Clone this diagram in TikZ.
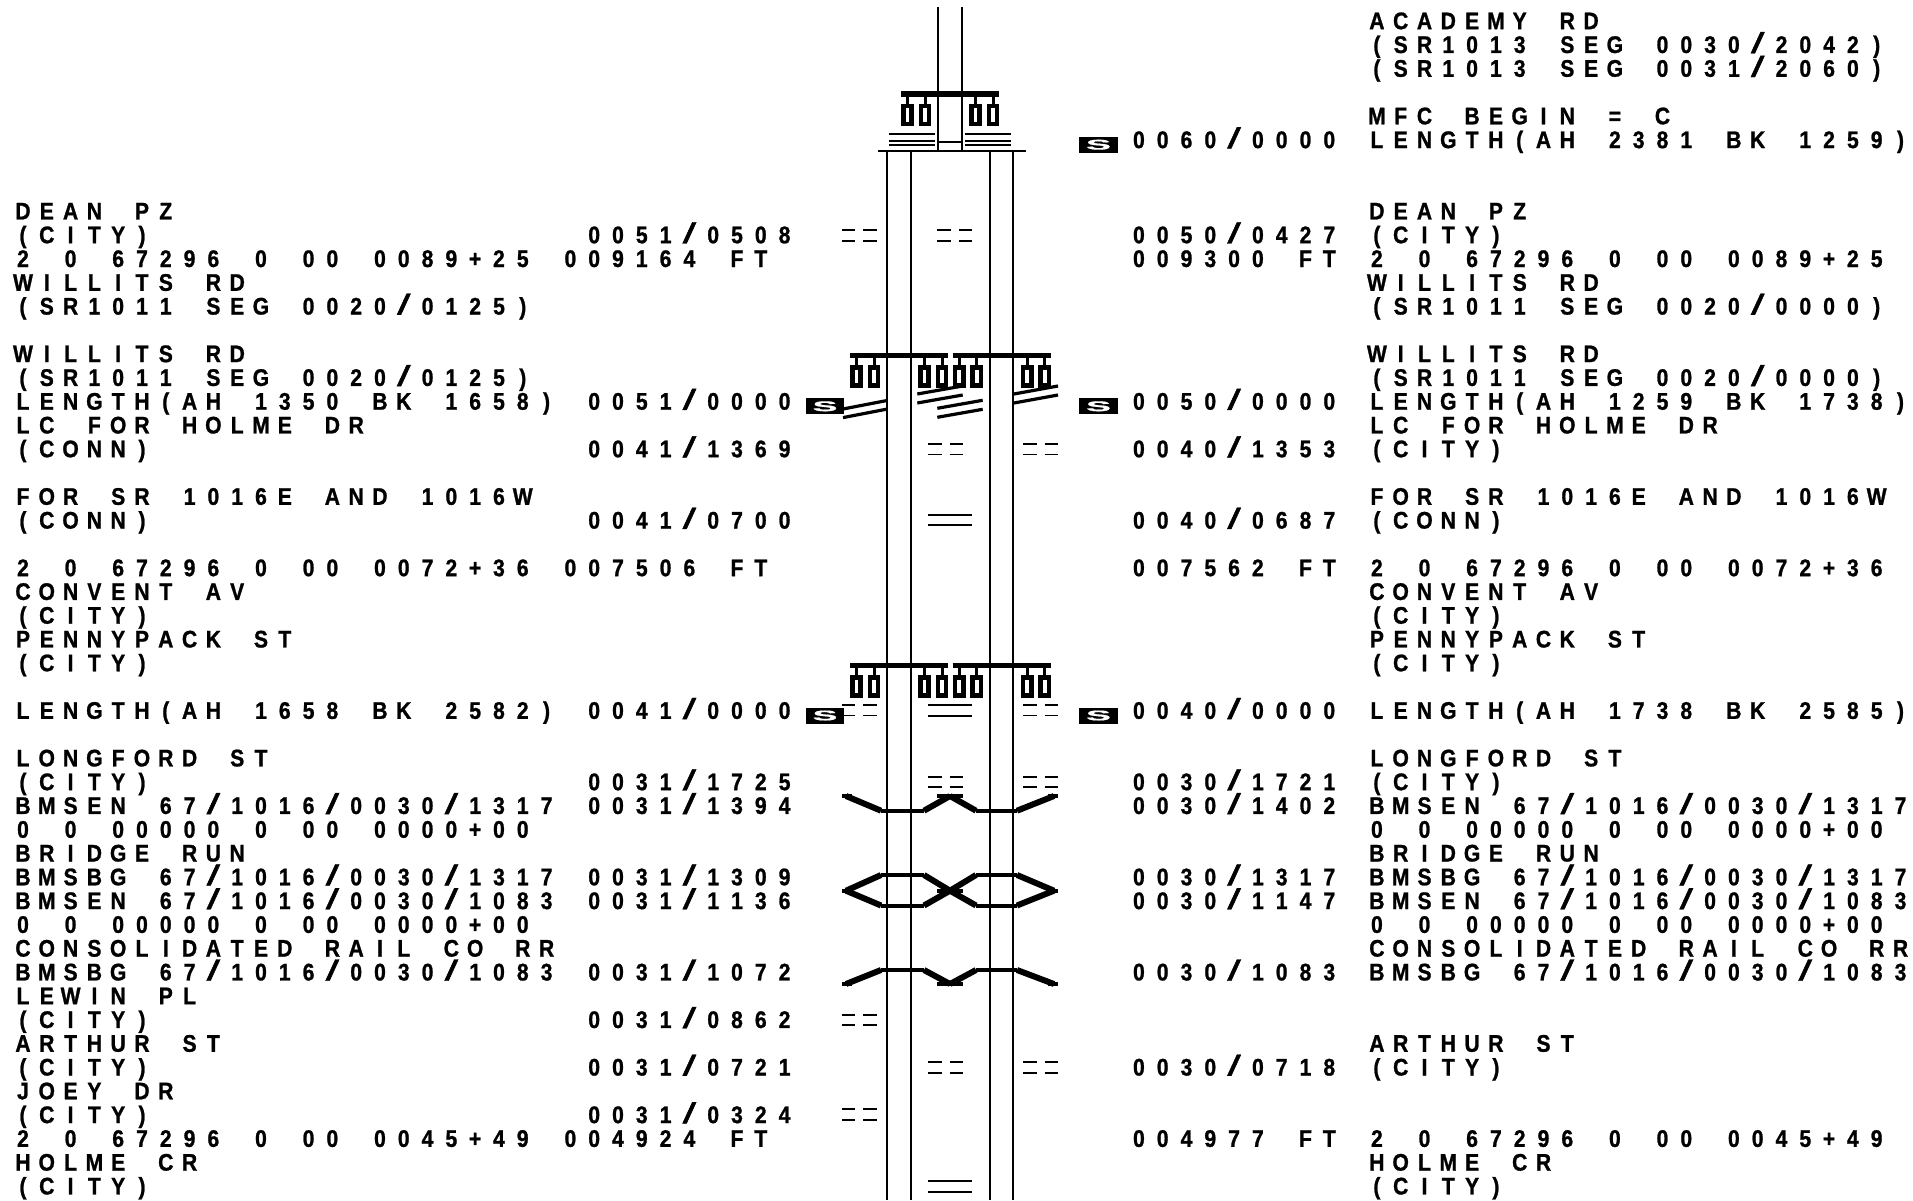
\documentclass[tikz,border=0pt]{standalone}
\usepackage{fontspec}
\usepackage{graphicx}
\newfontfamily\strk[FakeStretch=0.88,FakeBold=1]{Liberation Sans}
\ExplSyntaxOn
\cs_new_protected:Npn \gridtext #1
  { \str_map_inline:nn {#1}
    { \hbox_to_wd:nn {23.8pt}
      { \hss \str_if_eq:nnTF {##1} {/} { \scalebox{2.3}[1.2]{\mdseries/} } { ##1 } \hss } } }
\ExplSyntaxOff
\def\colL{11.1}\def\colN{558.5}\def\colM{582.3}\def\colQ{1127}\def\colR{1365}
\newcommand\rowtext[3]{\node[lbl] (#1#2) at (\csname col#1\endcsname,{29.2+23.78*#2}) {\gridtext{#3}};}
\tikzset{
  lbl/.style={anchor=base west,inner sep=0pt,outer sep=0pt,font=\strk\bfseries\fontsize{24}{24}\selectfont},
  rail/.style={line width=2pt},
  skew/.style={line width=3.2pt},
  flat/.style={line width=4pt},
  diag/.style={line width=6pt},
  sbox/.style={fill=black,text=white,inner sep=0pt,minimum width=38.4pt,minimum height=16pt,font=\strk\bfseries\fontsize{14}{14}\selectfont},
  gantry/.pic={
    \draw[line width=5.5pt] (0,0) -- (98,0);
    \foreach \a in {6.5,24,74.5,92}{
      \draw[line width=3pt] (\a,0) -- (\a,11);
      \draw[line width=4.5pt] (\a-4.2,12.2) rectangle (\a+4.2,29.8);
    }
  },
  eqq/.pic={
    \foreach \b in {0,10.4}{
      \draw[line width=1.8pt] (0,\b) -- (13.3,\b);
      \draw[line width=1.8pt] (21.3,\b) -- (34.7,\b);
    }
  },
  dbl/.pic={
    \foreach \b in {0,10.6}{\draw[line width=1.8pt] (0,\b) -- (43.4,\b);}
  }
}
\begin{document}
\begin{tikzpicture}[x=1pt,y=-1pt]
\useasboundingbox[fill=white] (0,0) rectangle (1913,1201);
% tracks
\coordinate (tA) at (938.3,7.3);\coordinate (tAb) at (938.3,150.7);
\coordinate (tB) at (961.7,7.3);\coordinate (tBb) at (961.7,150.7);
\draw[rail] (tA) -- (tAb);
\draw[rail] (tB) -- (tBb);
\draw[rail] (878,151.3) -- (1026,151.3);
\foreach \x in {887.3,911,989.7,1012.7}{\draw[rail] (\x,151) -- (\x,1200);}
\draw[rail] (938,142.5) -- (962,142.5);
\foreach \y in {134.3,141,145}{
  \draw[line width=1.9pt] (889.3,\y) -- (935,\y);
  \draw[line width=1.9pt] (965,\y) -- (1010.7,\y);
}
% gantries
\pic at (901,94) {gantry};
\pic at (850,355.5) {gantry};
\pic at (952.7,355.5) {gantry};
\pic at (850,665.5) {gantry};
\pic at (952.7,665.5) {gantry};
% skewed crossings
\foreach \dy in {0,8.6}{
  \draw[skew] (843,409+\dy) -- (886,400.7+\dy);
}
\foreach \dy in {0,9}{
  \draw[skew] (917.3,394+\dy) -- (962.7,386+\dy);
  \draw[skew] (937.3,408.3+\dy) -- (982.7,400.3+\dy);
  \draw[skew] (1014,394+\dy) -- (1058,386+\dy);
}
% double bars
\foreach \p/\q in {842/230.3,937.3/230.3,928.3/444,1023.3/444,842/705,1023.3/705,928.3/776.7,1023.3/776.7,842/1014.7,928.3/1062.3,1023.3/1062.3,842/1109.3}{
  \pic at (\p,\q) {eqq};
}
\foreach \q in {514.7,705,1181}{\pic at (928.3,\q) {dbl};}
% humps
\foreach \e/\f in {796/810.7,890.7/875,890.7/905.5,984/970}{
  \draw[flat] (842,\e) -- (852,\e);
  \draw[diag] (846,\e) -- (881,\f);
  \draw[flat] (881,\f) -- (924,\f);
  \draw[diag] (924,\f) -- (950,\e);
  \draw[flat] (945,\e) -- (962.7,\e);
  \draw[flat] (937.3,\e) -- (955,\e);
  \draw[diag] (950,\e) -- (976,\f);
  \draw[flat] (976,\f) -- (1017,\f);
  \draw[diag] (1017,\f) -- (1054,\e);
  \draw[flat] (1048,\e) -- (1058,\e);
}
% S boxes
\node[sbox] (s1) at (1098.5,144.7) {\scalebox{3}[1]{S}};
\node[sbox] (s2) at (825,406.3) {\scalebox{3}[1]{S}};
\node[sbox] (s3) at (1098.5,406.3) {\scalebox{3}[1]{S}};
\node[sbox] (s4) at (825,715.5) {\scalebox{3}[1]{S}};
\node[sbox] (s5) at (1098.5,715.5) {\scalebox{3}[1]{S}};
% left text
\rowtext{L}{8}{DEAN PZ}
\rowtext{L}{9}{(CITY)}
\rowtext{L}{10}{2 0 67296 0 00 0089+25}
\rowtext{L}{11}{WILLITS RD}
\rowtext{L}{12}{(SR1011 SEG 0020/0125)}
\rowtext{L}{14}{WILLITS RD}
\rowtext{L}{15}{(SR1011 SEG 0020/0125)}
\rowtext{L}{16}{LENGTH(AH 1350 BK 1658)}
\rowtext{L}{17}{LC FOR HOLME DR}
\rowtext{L}{18}{(CONN)}
\rowtext{L}{20}{FOR SR 1016E AND 1016W}
\rowtext{L}{21}{(CONN)}
\rowtext{L}{23}{2 0 67296 0 00 0072+36}
\rowtext{L}{24}{CONVENT AV}
\rowtext{L}{25}{(CITY)}
\rowtext{L}{26}{PENNYPACK ST}
\rowtext{L}{27}{(CITY)}
\rowtext{L}{29}{LENGTH(AH 1658 BK 2582)}
\rowtext{L}{31}{LONGFORD ST}
\rowtext{L}{32}{(CITY)}
\rowtext{L}{33}{BMSEN 67/1016/0030/1317}
\rowtext{L}{34}{0 0 00000 0 00 0000+00}
\rowtext{L}{35}{BRIDGE RUN}
\rowtext{L}{36}{BMSBG 67/1016/0030/1317}
\rowtext{L}{37}{BMSEN 67/1016/0030/1083}
\rowtext{L}{38}{0 0 00000 0 00 0000+00}
\rowtext{L}{39}{CONSOLIDATED RAIL CO RR}
\rowtext{L}{40}{BMSBG 67/1016/0030/1083}
\rowtext{L}{41}{LEWIN PL}
\rowtext{L}{42}{(CITY)}
\rowtext{L}{43}{ARTHUR ST}
\rowtext{L}{44}{(CITY)}
\rowtext{L}{45}{JOEY DR}
\rowtext{L}{46}{(CITY)}
\rowtext{L}{47}{2 0 67296 0 00 0045+49}
\rowtext{L}{48}{HOLME CR}
\rowtext{L}{49}{(CITY)}
% left mileposts
\rowtext{M}{9}{0051/0508}
\rowtext{N}{10}{009164 FT}
\rowtext{M}{16}{0051/0000}
\rowtext{M}{18}{0041/1369}
\rowtext{M}{21}{0041/0700}
\rowtext{N}{23}{007506 FT}
\rowtext{M}{29}{0041/0000}
\rowtext{M}{32}{0031/1725}
\rowtext{M}{33}{0031/1394}
\rowtext{M}{36}{0031/1309}
\rowtext{M}{37}{0031/1136}
\rowtext{M}{40}{0031/1072}
\rowtext{M}{42}{0031/0862}
\rowtext{M}{44}{0031/0721}
\rowtext{M}{46}{0031/0324}
\rowtext{N}{47}{004924 FT}
% right mileposts
\rowtext{Q}{5}{0060/0000}
\rowtext{Q}{9}{0050/0427}
\rowtext{Q}{10}{009300 FT}
\rowtext{Q}{16}{0050/0000}
\rowtext{Q}{18}{0040/1353}
\rowtext{Q}{21}{0040/0687}
\rowtext{Q}{23}{007562 FT}
\rowtext{Q}{29}{0040/0000}
\rowtext{Q}{32}{0030/1721}
\rowtext{Q}{33}{0030/1402}
\rowtext{Q}{36}{0030/1317}
\rowtext{Q}{37}{0030/1147}
\rowtext{Q}{40}{0030/1083}
\rowtext{Q}{44}{0030/0718}
\rowtext{Q}{47}{004977 FT}
% right text
\rowtext{R}{0}{ACADEMY RD}
\rowtext{R}{1}{(SR1013 SEG 0030/2042)}
\rowtext{R}{2}{(SR1013 SEG 0031/2060)}
\rowtext{R}{4}{MFC BEGIN = C}
\rowtext{R}{5}{LENGTH(AH 2381 BK 1259)}
\rowtext{R}{8}{DEAN PZ}
\rowtext{R}{9}{(CITY)}
\rowtext{R}{10}{2 0 67296 0 00 0089+25}
\rowtext{R}{11}{WILLITS RD}
\rowtext{R}{12}{(SR1011 SEG 0020/0000)}
\rowtext{R}{14}{WILLITS RD}
\rowtext{R}{15}{(SR1011 SEG 0020/0000)}
\rowtext{R}{16}{LENGTH(AH 1259 BK 1738)}
\rowtext{R}{17}{LC FOR HOLME DR}
\rowtext{R}{18}{(CITY)}
\rowtext{R}{20}{FOR SR 1016E AND 1016W}
\rowtext{R}{21}{(CONN)}
\rowtext{R}{23}{2 0 67296 0 00 0072+36}
\rowtext{R}{24}{CONVENT AV}
\rowtext{R}{25}{(CITY)}
\rowtext{R}{26}{PENNYPACK ST}
\rowtext{R}{27}{(CITY)}
\rowtext{R}{29}{LENGTH(AH 1738 BK 2585)}
\rowtext{R}{31}{LONGFORD ST}
\rowtext{R}{32}{(CITY)}
\rowtext{R}{33}{BMSEN 67/1016/0030/1317}
\rowtext{R}{34}{0 0 00000 0 00 0000+00}
\rowtext{R}{35}{BRIDGE RUN}
\rowtext{R}{36}{BMSBG 67/1016/0030/1317}
\rowtext{R}{37}{BMSEN 67/1016/0030/1083}
\rowtext{R}{38}{0 0 00000 0 00 0000+00}
\rowtext{R}{39}{CONSOLIDATED RAIL CO RR}
\rowtext{R}{40}{BMSBG 67/1016/0030/1083}
\rowtext{R}{43}{ARTHUR ST}
\rowtext{R}{44}{(CITY)}
\rowtext{R}{47}{2 0 67296 0 00 0045+49}
\rowtext{R}{48}{HOLME CR}
\rowtext{R}{49}{(CITY)}
\end{tikzpicture}
\end{document}
